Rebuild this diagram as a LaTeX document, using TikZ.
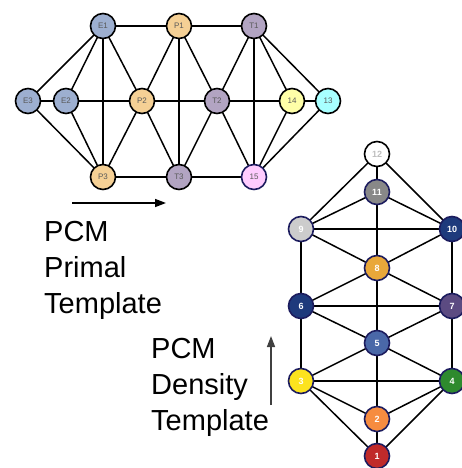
\documentclass[tikz,border=0pt]{standalone}
\usepackage{fontspec}
\setmainfont{Liberation Sans}
\usetikzlibrary{arrows.meta}
\pgfdeclarelayer{edgelayer}
\pgfsetlayers{edgelayer,main}
\definecolor{eblue}{HTML}{9DAFD0}
\definecolor{porange}{HTML}{F5D095}
\definecolor{tpurple}{HTML}{B2A4C2}
\definecolor{lyellow}{HTML}{FFFFA8}
\definecolor{lcyan}{HTML}{A8FFFF}
\definecolor{lpink}{HTML}{FFCCFF}
\definecolor{rimnavy}{HTML}{1C1C5E}
\definecolor{navy}{HTML}{1E3A7C}
\definecolor{gold}{HTML}{E9A83A}
\definecolor{plum}{HTML}{5C4B82}
\definecolor{steel}{HTML}{4A68A8}
\definecolor{sun}{HTML}{FCE31E}
\definecolor{leaf}{HTML}{2E8A2E}
\definecolor{tang}{HTML}{F68C40}
\definecolor{brick}{HTML}{C02A2A}
\definecolor{midgray}{HTML}{888888}
\definecolor{palegray}{HTML}{CCCCCC}
\begin{document}
\begin{tikzpicture}[x=1pt,y=-1pt,
  edge/.style={line width=1.5pt,black},
  pnode/.style={circle,draw=black,line width=1.6pt,minimum size=25pt,inner sep=0pt,
    font=\fontsize{8}{8}\selectfont,text=black!65},
  dnode/.style={circle,draw=rimnavy,line width=1.6pt,minimum size=25pt,inner sep=0pt,
    font=\fontsize{9}{9}\selectfont\bfseries,text=white},
  caption/.style={align=left,anchor=north west,inner sep=0pt,
    font=\fontsize{29}{36}\selectfont}]
\useasboundingbox (0,0) rectangle (461,468);

% primal template graph
\node[pnode,fill=eblue] (E1) at (103,26) {E1};
\node[pnode,fill=porange] (P1) at (179,26) {P1};
\node[pnode,fill=tpurple] (T1) at (254,26) {T1};
\node[pnode,fill=eblue] (E3) at (28,101) {E3};
\node[pnode,fill=eblue] (E2) at (66,101) {E2};
\node[pnode,fill=porange] (P2) at (142,101) {P2};
\node[pnode,fill=tpurple] (T2) at (217,101) {T2};
\node[pnode,fill=lyellow] (n14) at (292,101) {14};
\node[pnode,fill=lcyan] (n13) at (328,101) {13};
\node[pnode,fill=porange] (P3) at (103,177) {P3};
\node[pnode,fill=tpurple] (T3) at (179,177) {T3};
\node[pnode,fill=lpink,draw=rimnavy] (n15) at (254,177) {15};

\begin{pgfonlayer}{edgelayer}
\foreach \a/\b in {E1/P1,P1/T1,E3/E1,E3/E2,E3/P3,E2/E1,E2/P2,E2/P3,E1/P3,E1/P2,
  P2/P1,P2/T2,P2/P3,P2/T3,P1/T3,P1/T2,T2/T1,T2/n14,T2/T3,T2/n15,T1/n15,T1/n14,
  T1/n13,n14/n13,n14/n15,n13/n15,P3/T3,T3/n15}
  \draw[edge] (\a.center) -- (\b.center);
\end{pgfonlayer}

% density template graph
\node[circle,draw=black,line width=1.6pt,minimum size=25pt,inner sep=0pt,fill=white,
  font=\fontsize{9}{9}\selectfont\bfseries,text=black!25] (d12) at (377,154) {12};
\node[dnode,fill=midgray] (d11) at (377,192) {11};
\node[dnode,fill=palegray] (d9) at (301,229) {9};
\node[dnode,fill=navy] (d10) at (452,229) {10};
\node[dnode,fill=gold] (d8) at (377,268) {8};
\node[dnode,fill=navy] (d6) at (301,306) {6};
\node[dnode,fill=plum] (d7) at (452,306) {7};
\node[dnode,fill=steel] (d5) at (377,343) {5};
\node[dnode,fill=sun] (d3) at (301,381) {3};
\node[dnode,fill=leaf] (d4) at (452,381) {4};
\node[dnode,fill=tang] (d2) at (377,419) {2};
\node[dnode,fill=brick] (d1) at (377,456) {1};

\begin{pgfonlayer}{edgelayer}
\foreach \a/\b in {d12/d11,d12/d9,d12/d10,d11/d9,d11/d10,d11/d8,d9/d10,d9/d8,d9/d6,
  d10/d8,d10/d7,d8/d6,d8/d7,d8/d5,d6/d7,d6/d5,d6/d3,d7/d5,d7/d4,d5/d3,d5/d4,d5/d2,
  d3/d4,d3/d2,d3/d1,d4/d2,d4/d1,d2/d1}
  \draw[edge] (\a.center) -- (\b.center);
\end{pgfonlayer}

% captions and arrows
\node[caption] (cap1) at (44,221) {PCM\\Primal\\Template};
\node[caption] (cap2) at (151,338) {PCM\\Density\\Template};
\coordinate (h0) at (72,203);
\coordinate (h1) at (166,203);
\draw[line width=1.5pt,-{Triangle[length=11pt,width=8pt]}] (h0) -- (h1);
\coordinate (v0) at (271,405);
\coordinate (v1) at (271,336);
\draw[line width=1.5pt,black!75,-{Triangle[length=11pt,width=8pt]}] (v0) -- (v1);
\end{tikzpicture}
\end{document}
